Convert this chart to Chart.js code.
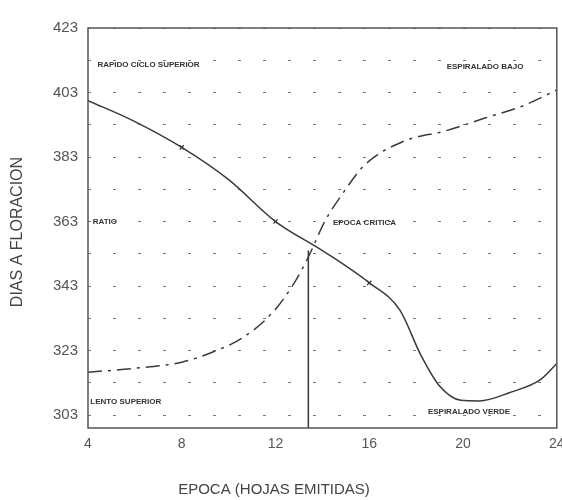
<!DOCTYPE html>
<html>
<head>
<meta charset="utf-8">
<script src="https://cdn.jsdelivr.net/npm/chart.js@4"></script>
<style>
  html, body { margin: 0; padding: 0; background: #fff; }
  #wrap { width: 562px; height: 500px; }
</style>
</head>
<body>
<div id="wrap"><canvas id="chart"></canvas></div>
<script>
// curva de dias a floracion (linea continua)
const epocaDias = [4, 6, 8, 10, 12, 14, 16, 17.3, 18.2, 19, 19.9, 20.7, 22, 23.3, 24]
const diasFloracion = [400.5, 394, 386, 376, 363, 354, 344, 335.6, 321.6, 312, 307.6, 307.4, 310, 314, 319]

// curva discontinua
const epocaDisc = [4, 6, 8, 9.3, 10.6, 11.9, 12.8, 13.4, 14.1, 14.8, 15.8, 17.5, 19.2, 20.9, 22.6, 24]
const valoresDisc = [316.3, 317.5, 319.4, 322.5, 327, 335, 344, 352, 363, 371, 380.5, 388, 391, 395, 399, 403.8]

// marcas sobre la curva continua
const marcasX = [8, 12, 16]
const marcasY = [386, 363, 344]

// linea vertical de la epoca critica
const criticaX = 13.4
const criticaY = [299, 354]

const yTicks = [303, 323, 343, 363, 383, 403, 423]
const xTicks = [4, 8, 12, 16, 20, 24]

const etiquetas = [
  { text: 'RAPIDO CICLO SUPERIOR', x: 4.4, y: 411.5 },
  { text: 'ESPIRALADO BAJO', x: 19.3, y: 411 },
  { text: 'RATIO', x: 4.2, y: 363 },
  { text: 'EPOCA CRITICA', x: 14.45, y: 362.5 },
  { text: 'LENTO SUPERIOR', x: 4.1, y: 307 },
  { text: 'ESPIRALADO VERDE', x: 18.5, y: 304 }
]

const ink = '#3a3a3a'

const textPlugin = {
  id: 'textos',
  afterDatasetsDraw(chart) {
    const ctx = chart.ctx
    const xs = chart.scales.x
    const ys = chart.scales.y
    ctx.save()
    ctx.fillStyle = '#333'
    ctx.font = 'bold 8px "Liberation Sans", Arial, sans-serif'
    ctx.textBaseline = 'middle'
    ctx.textAlign = 'left'
    for (let e of etiquetas) {
      ctx.fillText(e.text, xs.getPixelForValue(e.x), ys.getPixelForValue(e.y))
    }
    // marco
    const a = chart.chartArea
    ctx.strokeStyle = '#555'
    ctx.lineWidth = 1.5
    ctx.strokeRect(a.left, a.top, a.right - a.left, a.bottom - a.top)
    // titulos
    ctx.fillStyle = '#444'
    ctx.font = '15px "Liberation Sans", Arial, sans-serif'
    ctx.textAlign = 'center'
    ctx.fillText('EPOCA (HOJAS EMITIDAS)', 274, 490)
    ctx.translate(18, 232)
    ctx.rotate(-Math.PI / 2)
    ctx.font = '16px "Liberation Sans", Arial, sans-serif'
    ctx.fillText('DIAS A FLORACION', 0, 0)
    ctx.restore()
  }
}

const data = {
  datasets: [
    {
      label: 'dias',
      data: epocaDias.map((x, i) => ({ x: x, y: diasFloracion[i] })),
      showLine: true,
      borderColor: ink,
      borderWidth: 1.5,
      pointRadius: 0,
      cubicInterpolationMode: 'monotone'
    },
    {
      label: 'disc',
      data: epocaDisc.map((x, i) => ({ x: x, y: valoresDisc[i] })),
      showLine: true,
      borderColor: ink,
      borderWidth: 1.5,
      borderDash: [14, 6, 3, 6],
      pointRadius: 0,
      cubicInterpolationMode: 'monotone'
    },
    {
      label: 'marcas',
      data: marcasX.map((x, i) => ({ x: x, y: marcasY[i] })),
      showLine: false,
      pointStyle: 'crossRot',
      pointRadius: 3,
      borderColor: ink,
      borderWidth: 1.2
    },
    {
      label: 'critica',
      data: criticaY.map(y => ({ x: criticaX, y: y })),
      showLine: true,
      borderColor: ink,
      borderWidth: 1.5,
      pointRadius: 0
    }
  ]
}

const config = {
  type: 'scatter',
  data: data,
  options: {
    responsive: true,
    maintainAspectRatio: false,
    animation: false,
    layout: { padding: { top: 28, right: 5, left: 0, bottom: 0 } },
    plugins: { legend: { display: false }, tooltip: { enabled: false } },
    scales: {
      x: {
        type: 'linear',
        min: 4,
        max: 24,
        afterBuildTicks: s => { s.ticks = xTicks.map(v => ({ value: v })) },
        afterFit: s => { s.height = 72; s.paddingRight = 0; s.paddingLeft = 0 },
        grid: { display: false, drawTicks: false },
        border: { display: false },
        ticks: {
          color: '#555',
          padding: 8,
          font: { family: '"Liberation Sans", Arial, sans-serif', size: 14 }
        }
      },
      y: {
        type: 'linear',
        min: 299,
        max: 423,
        afterBuildTicks: s => {
          const t = []
          for (let v = 303; v <= 423; v += 10) t.push({ value: v })
          s.ticks = t
        },
        afterFit: s => { s.width = 88 },
        grid: {
          color: '#777',
          lineWidth: 1,
          drawTicks: false
        },
        border: { display: false, dash: [3, 22] },
        ticks: {
          color: '#555',
          padding: 10,
          font: { family: '"Liberation Sans", Arial, sans-serif', size: 15 },
          callback: v => (yTicks.includes(v) ? String(v) : '')
        }
      }
    }
  },
  plugins: [textPlugin]
}

new Chart(document.getElementById('chart'), config)
</script>
</body>
</html>
